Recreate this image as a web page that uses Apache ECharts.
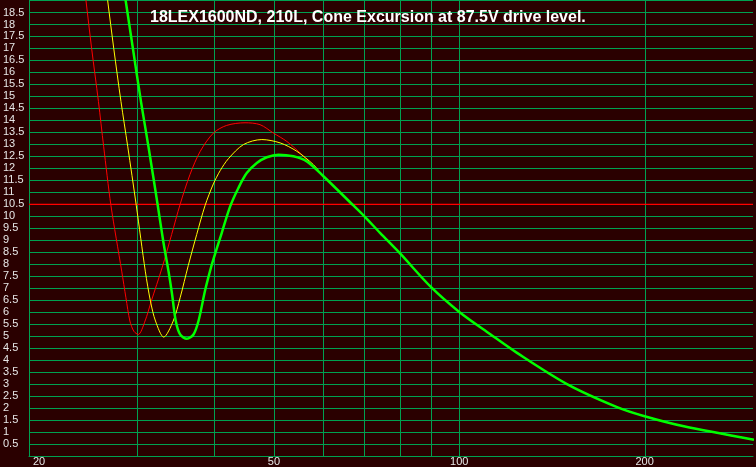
<!DOCTYPE html>
<html><head><meta charset="utf-8">
<script src="https://cdn.jsdelivr.net/npm/echarts@6/dist/echarts.min.js"></script>
<style>html,body{margin:0;padding:0;background:#2a0000;}#c{width:756px;height:467px;}</style>
</head><body><div id="c"></div>
<script>
const titleText = '18LEX1600ND, 210L, Cone Excursion at 87.5V drive level.';
const xGridFreqs = [30, 40, 50, 60, 70, 80, 90, 100, 200];
const xLabelFreqs = [20, 50, 100, 200];
const thresholdFreq = [20, 300];
const thresholdMm = [10.5, 10.5];

const redFreq = [24.23, 24.75, 25.28, 25.93, 26.44, 27.17, 28.29, 28.74, 29.17, 29.61, 30.1, 30.87, 31.6, 32.9, 34.1, 35.2, 36.52, 37.93, 39.86, 41.9, 44.87, 47.47, 49.9, 52.47, 55.13, 57.96, 60.16];
const redExc  = [21, 19, 17, 14.79, 12.92, 10.46, 7.71, 6.6, 5.63, 5.2, 5.07, 5.63, 6.46, 7.85, 9.24, 10.5, 11.74, 12.7, 13.47, 13.79, 13.9, 13.82, 13.47, 13.12, 12.64, 12.08, 11.67];

const yellowFreq = [26.24, 26.84, 27.46, 28.21, 28.93, 29.87, 30.9, 31.5, 32.1, 33.1, 34.3, 35.2, 36.29, 37.45, 38.64, 39.86, 40.88, 42.16, 44.6, 47.78, 51.17, 54.46, 57.96, 60.16];
const yellowExc  = [21, 19, 17, 14.79, 12.92, 10.46, 7.71, 6.46, 5.63, 4.96, 5.63, 6.6, 7.95, 9.24, 10.45, 11.35, 11.9, 12.4, 12.99, 13.2, 13.06, 12.71, 12.15, 11.67];

const greenFreq = [27.94, 28.71, 29.5, 30.4, 31.26, 32.37, 33.05, 33.7, 34.14, 34.63, 35.2, 36.1, 37.0, 37.7, 38.64, 39.36, 39.86, 41.12, 42.43, 43.77, 45.16, 46.89, 48.67, 50.83, 53.77, 56.53, 60.16];
const greenExc  = [21, 19, 17, 14.79, 12.92, 10.46, 8.95, 7.71, 6.78, 5.63, 5.07, 4.89, 5.07, 5.63, 6.9, 7.71, 8.2, 9.3, 10.4, 11.18, 11.8, 12.22, 12.46, 12.57, 12.5, 12.29, 11.67];

const tailFreq = [67.3, 70, 74.4, 80, 90, 100, 112.3, 124.1, 149.6, 180.4, 200, 231.6, 301];
const tailExc  = [10.45, 10.02, 9.3, 8.47, 7.04, 6.01, 5.08, 4.3, 3.0, 2.04, 1.66, 1.24, 0.68];

function pairs(fs, vs, withTail) {
  const a = fs.map((f, i) => [f, vs[i]]);
  return withTail ? a.concat(tailFreq.map((f, i) => [f, tailExc[i]])) : a;
}

const gridColor = '#00a050';
const textColor = '#e6e6e6';
const font = 'Liberation Sans, Arial, sans-serif';

const chart = echarts.init(document.getElementById('c'));
chart.setOption({
  animation: false,
  backgroundColor: '#2a0000',
  title: {
    text: titleText, left: 145, top: 5,
    textStyle: { color: '#ffffff', fontSize: 16, fontWeight: 'bold', fontFamily: font }
  },
  grid: { left: 29, right: 3, top: 0.5, bottom: 10.5 },
  xAxis: {
    type: 'log', logBase: 10, min: 20, max: 300,
    axisLine: { show: true, lineStyle: { color: gridColor, width: 1 } },
    axisTick: { show: false },
    axisLabel: {
      customValues: xLabelFreqs, color: textColor, fontSize: 11, fontFamily: font, margin: 0,
      formatter: v => Math.round(v) === 20 ? '{a|20}' : String(Math.round(v)),
      rich: { a: { padding: [0, 0, 0, 20], color: textColor, fontSize: 11, fontFamily: font } }
    },
    splitLine: { show: false },
    minorSplitLine: { show: false }
  },
  yAxis: {
    type: 'value', min: 0, max: 19, interval: 0.5,
    axisLine: { show: true, onZero: false, lineStyle: { color: gridColor, width: 1 } },
    axisTick: { show: false },
    axisLabel: { align: 'left', margin: 26, showMinLabel: false, showMaxLabel: false, color: textColor, fontSize: 11, fontFamily: font },
    splitLine: { show: true, lineStyle: { color: gridColor, width: 1 } }
  },
  series: [
    {
      type: 'custom', silent: true,
      data: xGridFreqs.map(f => [f, 0]),
      encode: { x: 0, y: 1 },
      renderItem: (params, api) => {
        const cs = params.coordSys;
        const x = Math.round(api.coord([api.value(0), 0])[0]) + 0.5;
        return { type: 'line', shape: { x1: x, y1: cs.y, x2: x, y2: cs.y + cs.height },
                 style: { stroke: gridColor, lineWidth: 1 } };
      }
    },
    {
      type: 'line', data: pairs(thresholdFreq, thresholdMm, false), showSymbol: false, silent: true,
      lineStyle: { color: '#ff0000', width: 1.2 }
    },
    {
      type: 'line', data: pairs(redFreq, redExc, true), showSymbol: false, smooth: 0.3,
      lineStyle: { color: '#ff0000', width: 1 }, clip: true
    },
    {
      type: 'line', data: pairs(yellowFreq, yellowExc, true), showSymbol: false, smooth: 0.3,
      lineStyle: { color: '#ffff00', width: 1 }, clip: true
    },
    {
      type: 'line', data: pairs(greenFreq, greenExc, true), showSymbol: false, smooth: 0.3,
      lineStyle: { color: '#00ff00', width: 2.5 }, clip: true
    }
  ]
});
</script>
</body></html>
